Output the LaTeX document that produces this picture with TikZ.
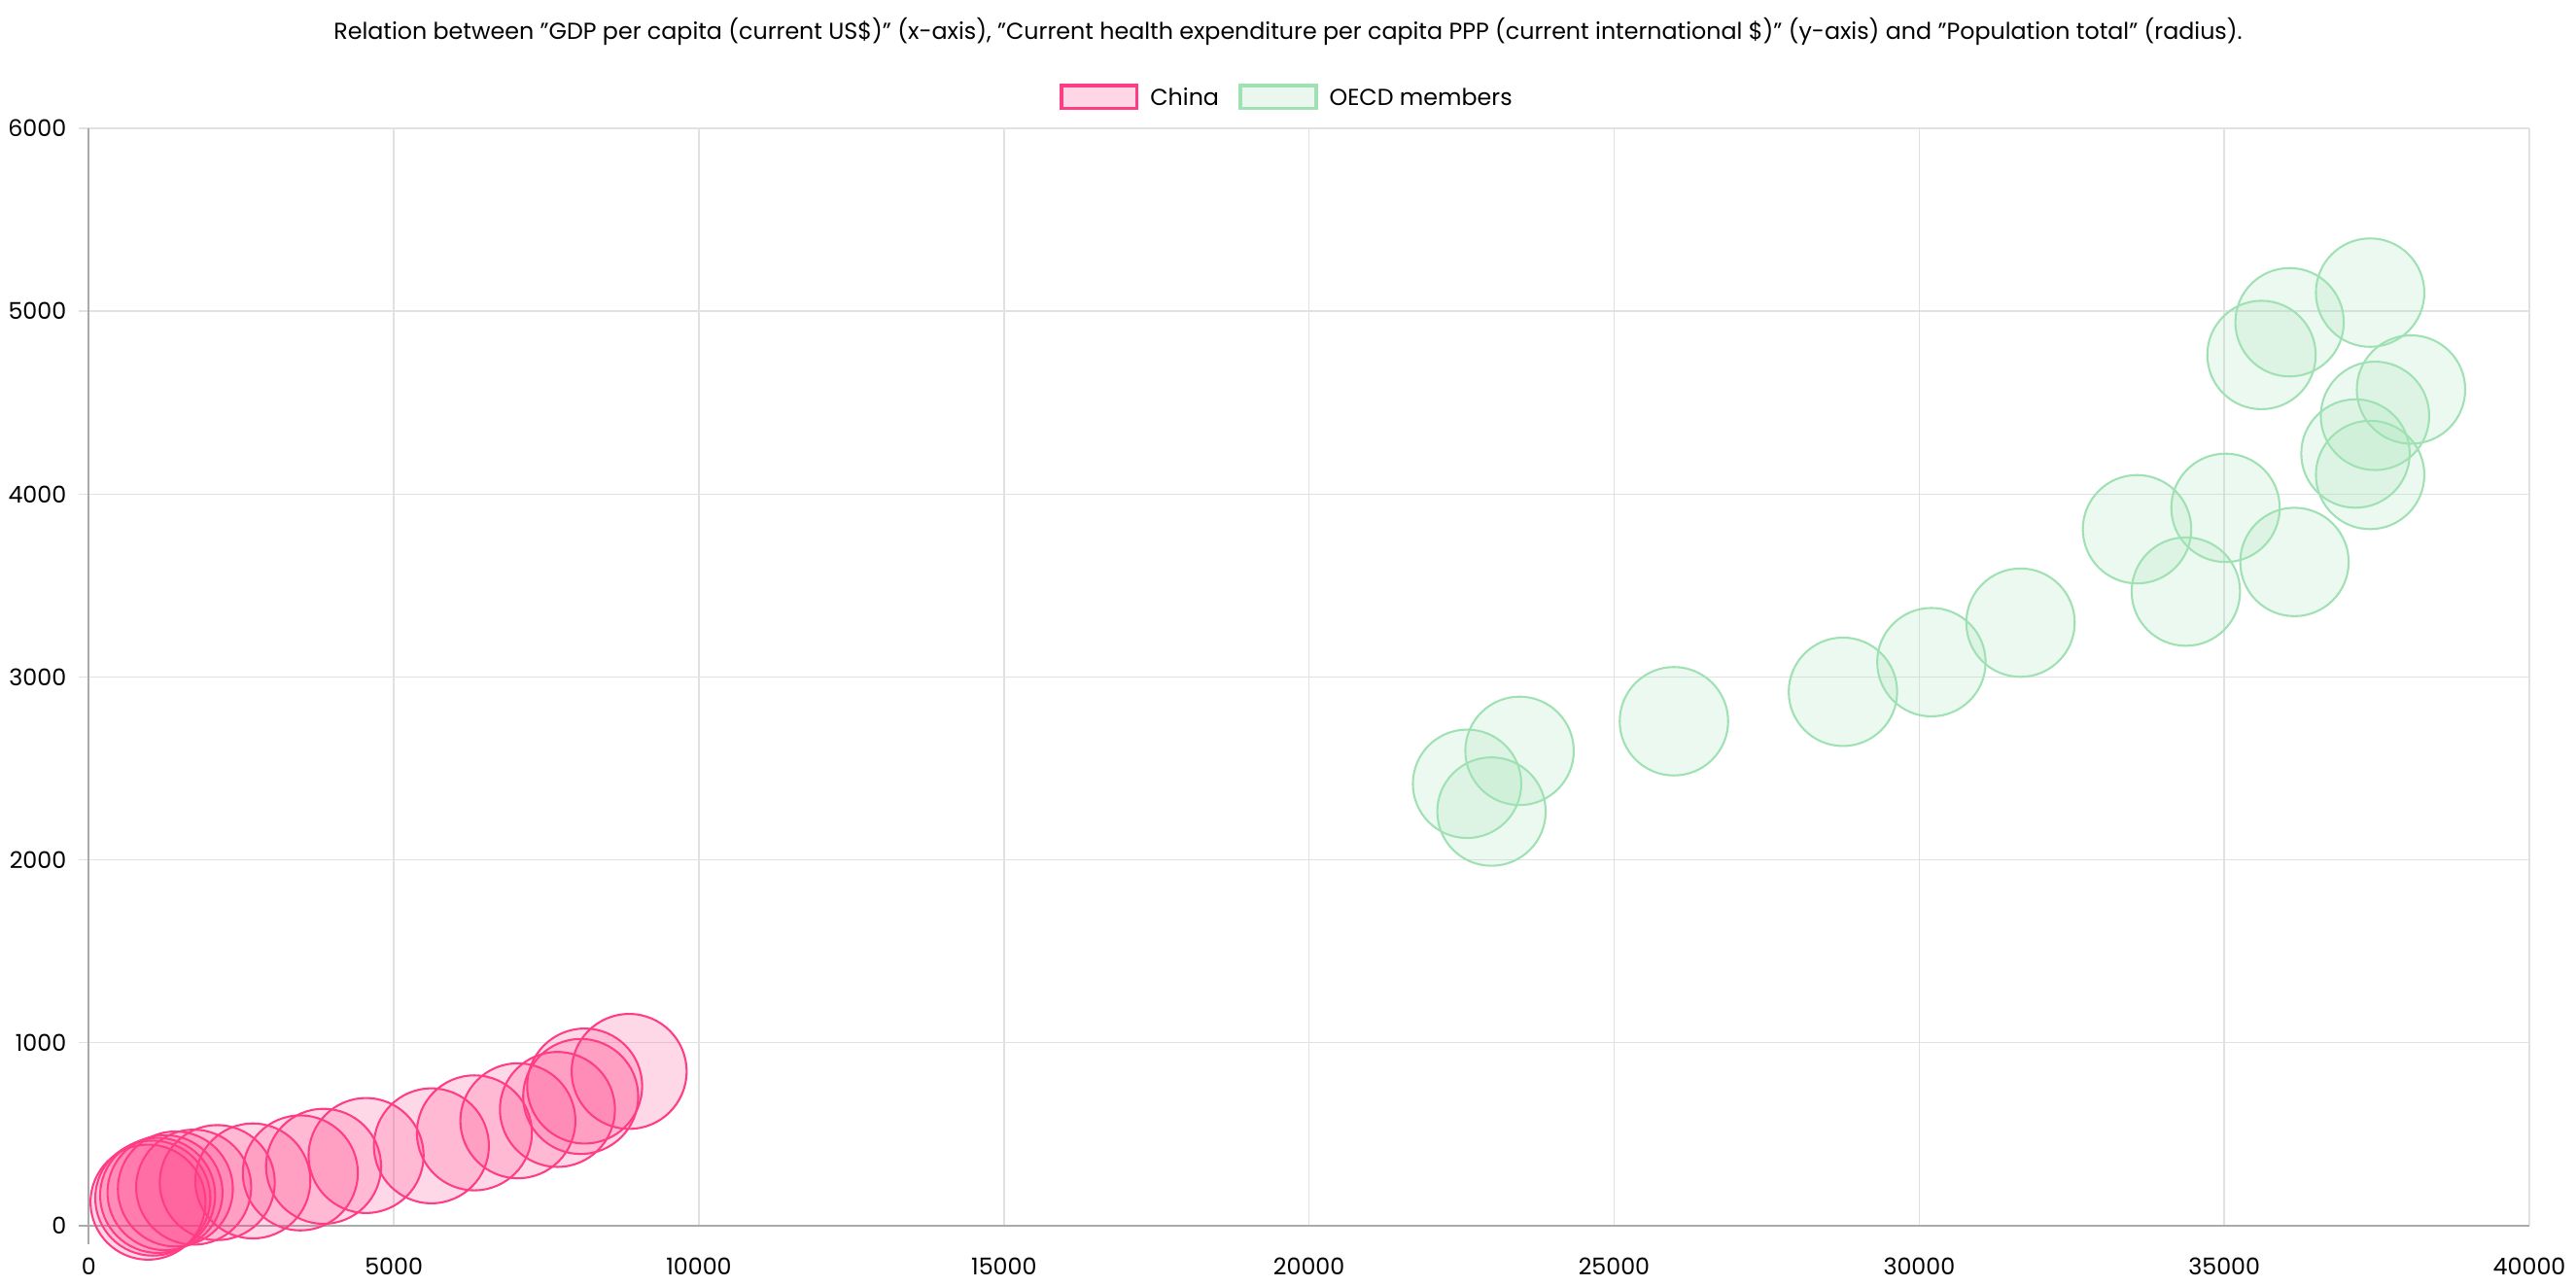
\documentclass[tikz,border=0pt]{standalone}
\usepackage{fontspec}
\setmainfont{Poppins}
\definecolor{pk}{RGB}{255,61,133}
\definecolor{pkf}{RGB}{255,214,229}
\definecolor{gr}{RGB}{160,225,180}
\definecolor{grf}{RGB}{234,247,238}
\definecolor{gridc}{RGB}{225,225,225}
\definecolor{axc}{RGB}{170,170,170}
\tikzset{
  pkb/.style={draw=pk, line width=0.7pt, fill=pk, fill opacity=0.2},
  grb/.style={draw=gr, line width=0.7pt, fill=gr, fill opacity=0.2},
  tick/.style={font=\fontsize{8}{9}\selectfont},
  gridl/.style={draw=gridc, line width=0.5pt}
}
\begin{document}
\begin{tikzpicture}[x=0.02cm,y=-0.02cm]
\useasboundingbox (0,0) rectangle (1568,783.4);
\node (title) at (784,19) {\fontsize{8}{9}\selectfont Relation between "GDP per capita (current US\$)" (x-axis), "Current health expenditure per capita PPP (current international \$)" (y-axis) and "Population total" (radius).};
\draw[pk, line width=1.2pt, fill=pkf] (646,52) rectangle (692,66);
\node[tick, anchor=west] (lc) at (694,59) {China};
\draw[gr, line width=1.2pt, fill=grf] (755,52) rectangle (801,66);
\node[tick, anchor=west] (lo) at (803,59) {OECD members};
\begin{scope}[shift={(54,746)}, x=0.0743cm, y=0.22266cm]
  \foreach \v in {10,20,...,60} \draw[gridl] (-1.7,\v) -- (400,\v);
  \foreach \v in {50,100,...,400} \draw[gridl] (\v,0) -- (\v,60);
  \draw[axc, line width=0.7pt] (0,-1) -- (0,60);
  \draw[axc, line width=0.7pt] (-1.7,0) -- (400,0);
  \foreach \v/\t in {0/0,10/1000,20/2000,30/3000,40/4000,50/5000,60/6000} \node[tick, anchor=east] (yl\v) at (-2,\v) {\t};
  \foreach \v/\t in {0/0,50/5000,100/10000,150/15000,200/20000,250/25000,300/30000,350/35000,400/40000} \node[tick, anchor=north] (xl\v) at (\v,-1.2) {\t};
  \foreach \px/\py in {9.72/1.28,10.50/1.50,11.30/1.65,12.50/1.80,14.20/2.00,17.20/2.10,21.07/2.35,26.90/2.44,34.68/2.88,38.49/3.24,45.46/3.83,56.16/4.36,63.21/5.07,70.34/5.73,76.82/6.35,80.63/7.06,81.28/7.63,88.57/8.43}
    \fill[pkb] (\px,\py) circle[radius=0.7cm];
  \foreach \px/\py in {373.9/51.02,360.7/49.40,356.1/47.61,380.6/45.72,374.7/44.28,371.5/42.22,373.9/41.05,361.5/36.29,350.2/39.25,335.7/38.08,343.7/34.67,316.6/32.97,302.0/30.81,287.5/29.19,259.8/27.58,234.5/25.96,225.9/24.16,229.9/22.64}
    \fill[grb] (\px,\py) circle[radius=0.66cm];
\end{scope}
\end{tikzpicture}
\end{document}
